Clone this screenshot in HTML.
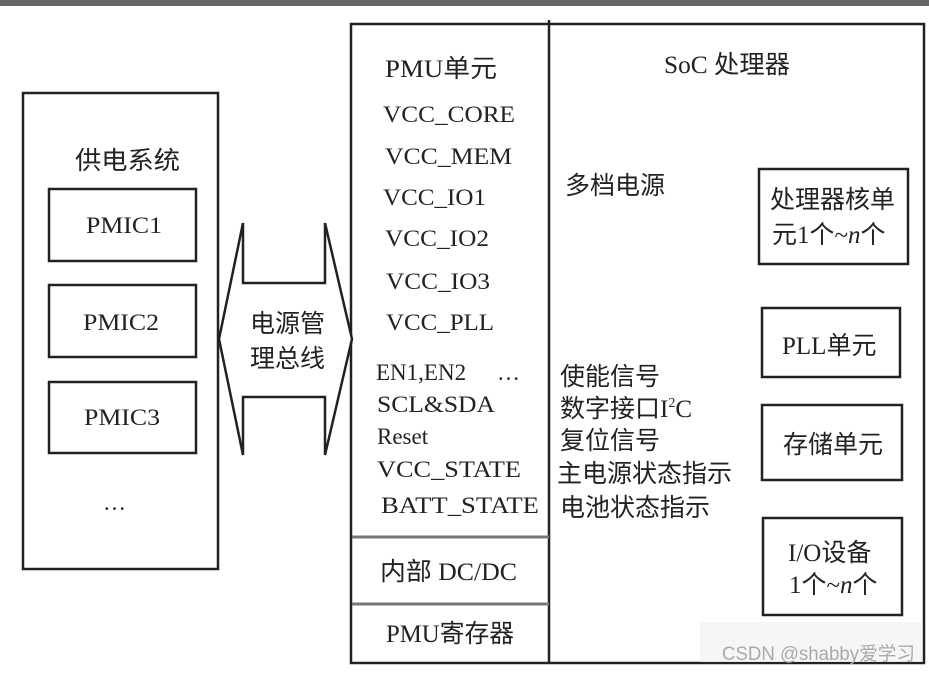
<!DOCTYPE html>
<html><head><meta charset="utf-8"><style>
html,body{margin:0;padding:0;background:#fff;}
svg{display:block;}
text{font-family:"Liberation Serif","Noto Serif CJK SC","Noto Sans CJK SC",serif;fill:#222;font-size:23px;}
.c{font-family:"Liberation Serif","Noto Sans CJK SC",sans-serif;font-size:25px;}
.w{font-family:"Liberation Sans","Noto Sans CJK SC",sans-serif;font-size:19px;fill:#aaa;}
</style></head><body>
<svg width="929" height="673" viewBox="0 0 929 673" xmlns="http://www.w3.org/2000/svg">
<rect x="0" y="0" width="929" height="6" fill="#666"/>
<g fill="none" stroke="#222" stroke-width="2.5">
<rect x="23" y="93" width="195" height="476"/>
<rect x="49" y="189" width="147" height="72"/>
<rect x="49" y="285" width="147" height="72"/>
<rect x="49" y="382" width="147" height="71"/>
<rect x="351" y="24" width="573" height="639"/>
<line x1="549" y1="20" x2="549" y2="663"/>
<rect x="759" y="169" width="149" height="95"/>
<rect x="762" y="308" width="138" height="69"/>
<rect x="762" y="405" width="140" height="75"/>
<rect x="763" y="518" width="139" height="97"/>
<polygon points="243,223 243,283 325,283 325,223 352,339 325,455 325,397 243,397 243,455 219,339" fill="#fff"/>
</g>
<line x1="352" y1="537" x2="549" y2="537" stroke="#777" stroke-width="3"/>
<line x1="352" y1="604" x2="549" y2="604" stroke="#777" stroke-width="3"/>
<text class="c" x="75" y="169" textLength="105" lengthAdjust="spacingAndGlyphs">供电系统</text>
<text x="86" y="233" font-size="24" textLength="76" lengthAdjust="spacingAndGlyphs">PMIC1</text>
<text x="83" y="330" font-size="24" textLength="76" lengthAdjust="spacingAndGlyphs">PMIC2</text>
<text x="84" y="425" font-size="24" textLength="76" lengthAdjust="spacingAndGlyphs">PMIC3</text>
<text x="103" y="510" font-size="20">…</text>
<text class="c" x="250" y="332" font-size="24">电源管</text>
<text class="c" x="250" y="367" font-size="24">理总线</text>
<text class="c" x="385" y="77" textLength="112" lengthAdjust="spacingAndGlyphs">PMU单元</text>
<text x="383" y="122" textLength="132" lengthAdjust="spacingAndGlyphs">VCC_CORE</text>
<text x="385" y="164" textLength="127" lengthAdjust="spacingAndGlyphs">VCC_MEM</text>
<text x="383" y="205" textLength="103" lengthAdjust="spacingAndGlyphs">VCC_IO1</text>
<text x="385" y="246" textLength="104" lengthAdjust="spacingAndGlyphs">VCC_IO2</text>
<text x="386" y="289" textLength="104" lengthAdjust="spacingAndGlyphs">VCC_IO3</text>
<text x="386" y="330" textLength="108" lengthAdjust="spacingAndGlyphs">VCC_PLL</text>
<text x="376" y="380" font-size="21">EN1,EN2</text>
<text x="497" y="380" font-size="21">…</text>
<text x="377" y="412" font-size="21" textLength="118" lengthAdjust="spacingAndGlyphs">SCL&amp;SDA</text>
<text x="377" y="444" font-size="21">Reset</text>
<text x="377" y="477" font-size="21" textLength="144" lengthAdjust="spacingAndGlyphs">VCC_STATE</text>
<text x="381" y="513" font-size="21" textLength="158" lengthAdjust="spacingAndGlyphs">BATT_STATE</text>
<text class="c" x="380" y="580" textLength="137" lengthAdjust="spacingAndGlyphs">内部 DC/DC</text>
<text class="c" x="386" y="642" textLength="128" lengthAdjust="spacingAndGlyphs">PMU寄存器</text>
<text class="c" x="664" y="73" textLength="126" lengthAdjust="spacingAndGlyphs">SoC 处理器</text>
<text class="c" x="565" y="194">多档电源</text>
<text class="c" x="560" y="385">使能信号</text>
<text class="c" x="560" y="417">数字接口I<tspan font-size="14" dy="-10">2</tspan><tspan dy="10">C</tspan></text>
<text class="c" x="560" y="449">复位信号</text>
<text class="c" x="557" y="482">主电源状态指示</text>
<text class="c" x="560" y="516">电池状态指示</text>
<text class="c" x="770" y="208">处理器核单</text>
<text class="c" x="772" y="243">元1个~<tspan font-style="italic">n</tspan>个</text>
<text class="c" x="782" y="354">PLL单元</text>
<text class="c" x="783" y="453">存储单元</text>
<text class="c" x="788" y="561">I/O设备</text>
<text class="c" x="789" y="593">1个~<tspan font-style="italic">n</tspan>个</text>
<rect x="700" y="622" width="222" height="40" fill="#f2f2f2" opacity="0.7"/>
<text class="w" x="722" y="660" textLength="193" lengthAdjust="spacingAndGlyphs">CSDN @shabby爱学习</text>
</svg>
</body></html>
